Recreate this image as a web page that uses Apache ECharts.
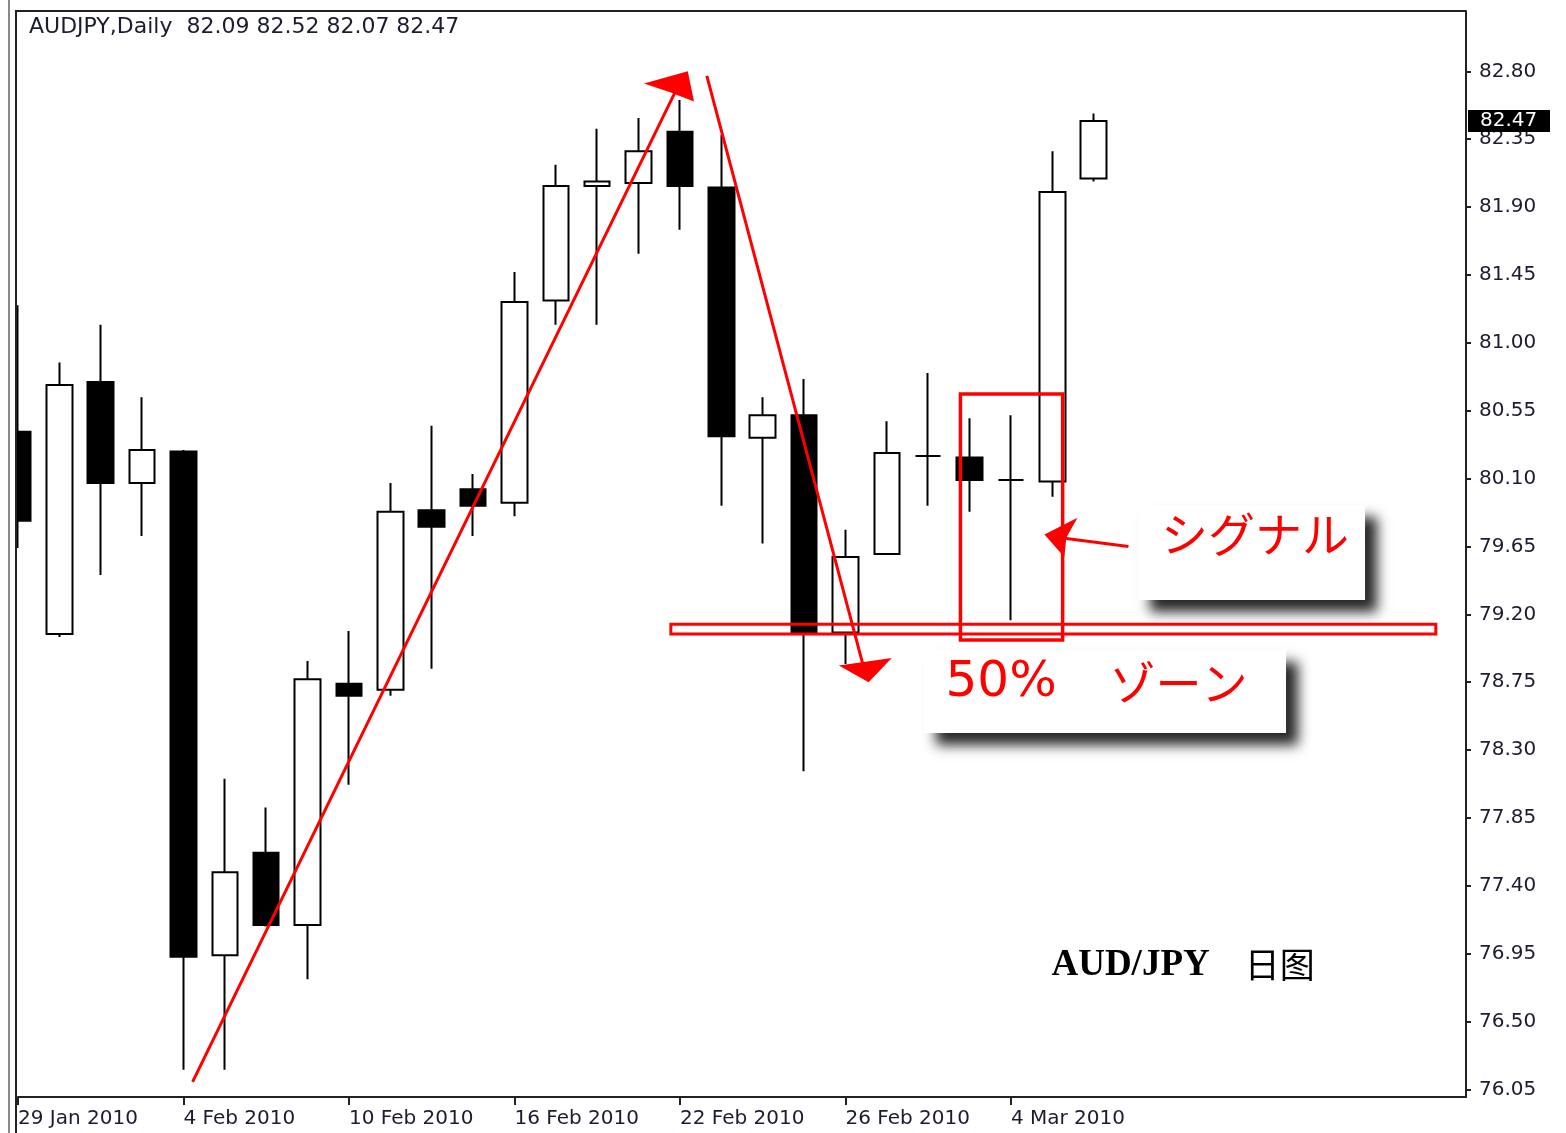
<!DOCTYPE html>
<html>
<head>
<meta charset="utf-8">
<title>AUDJPY Daily</title>
<script src="https://cdn.jsdelivr.net/npm/echarts@6/dist/echarts.min.js"></script>
<style>
  html, body { margin: 0; padding: 0; background: #fff; }
  #chart { width: 1566px; height: 1133px; }
</style>
</head>
<body>
<div id="chart"></div>
<script>
// daily bars, 29 Jan 2010 - 8 Mar 2010, then empty slots to the right
const dates = [
  '29 Jan 2010', '1 Feb 2010', '2 Feb 2010', '3 Feb 2010', '4 Feb 2010', '5 Feb 2010',
  '8 Feb 2010', '9 Feb 2010', '10 Feb 2010', '11 Feb 2010', '12 Feb 2010',
  '15 Feb 2010', '16 Feb 2010', '17 Feb 2010', '18 Feb 2010', '19 Feb 2010',
  '22 Feb 2010', '23 Feb 2010', '24 Feb 2010', '25 Feb 2010', '26 Feb 2010',
  '1 Mar 2010', '2 Mar 2010', '3 Mar 2010', '4 Mar 2010', '5 Mar 2010', '8 Mar 2010',
  '9 Mar 2010', '10 Mar 2010', '11 Mar 2010', '12 Mar 2010', '15 Mar 2010',
  '16 Mar 2010', '17 Mar 2010', '18 Mar 2010', '19 Mar 2010'
];
const opens  = [80.41, 79.07, 80.74, 80.07, 80.28, 76.94, 77.62, 77.14, 78.74, 78.70, 79.89, 80.03, 79.94, 81.28,
                82.04, 82.06, 82.40, 82.03, 80.37, 80.52, 79.08, 79.60, 80.25, 80.24, 80.09, 80.08, 82.09];
const highs  = [81.25, 80.87, 81.12, 80.64, 80.29, 78.11, 77.92, 78.89, 79.09, 80.07, 80.45, 80.13, 81.47, 82.18,
                82.42, 82.49, 82.61, 82.38, 80.64, 80.76, 79.76, 80.48, 80.80, 80.50, 80.52, 82.27, 82.52];
const lows   = [79.64, 79.05, 79.46, 79.72, 76.18, 76.18, 77.13, 76.78, 78.07, 78.66, 78.84, 79.72, 79.85, 81.12,
                81.12, 81.59, 81.75, 79.92, 79.67, 78.16, 78.87, 79.60, 79.92, 79.88, 79.16, 79.98, 82.07];
const closes = [79.82, 80.72, 80.07, 80.29, 76.93, 77.49, 77.14, 78.77, 78.66, 79.88, 79.78, 79.92, 81.27, 82.04,
                82.07, 82.27, 82.04, 80.38, 80.52, 79.08, 79.58, 80.27, 80.25, 80.09, 80.09, 82.00, 82.47];
const priceTicks = [76.05, 76.50, 76.95, 77.40, 77.85, 78.30, 78.75, 79.20, 79.65,
                    80.10, 80.55, 81.00, 81.45, 81.90, 82.35, 82.80];
const lastPrice = 82.47;

// hand drawn annotations, as [bar index, price]
const upArrowLine = [[4.22, 76.10], [15.88, 82.66]];
const upArrowHead = [[15.13, 82.72], [16.19, 82.80], [16.34, 82.60], [15.78, 82.66]];
const downArrowLine = [[16.65, 82.77], [20.42, 78.87]];
const downArrowHead = [[19.84, 78.86], [21.12, 78.91], [20.56, 78.75]];
const zoneBand = [[15.78, 79.135], [34.27, 79.07]];
const signalBox = [[22.78, 80.66], [25.25, 79.03]];
const signalArrowLine = [[25.15, 79.71], [26.84, 79.65]];
const signalArrowHead = [[24.81, 79.73], [25.61, 79.84], [25.34, 79.71], [25.29, 79.58]];
const signalNote = { box: [[27.08, 79.925], [32.56, 79.295]], text: [27.63, 79.73] };
const zoneNote = { box: [[21.89, 78.963], [30.65, 78.413]], pct: [22.42, 78.745], word: [26.38, 78.745] };
const pairNote = [24.98, 76.875];

const FONT = 'DejaVu Sans';
const JP = '"Noto Sans CJK JP", sans-serif';
const showTick = (idx) => idx % 4 === 0 && idx <= 24;

const chart = echarts.init(document.getElementById('chart'));
chart.setOption({
  animation: false,
  backgroundColor: '#fff',
  title: {
    text: 'AUDJPY,Daily  82.09 82.52 82.07 82.47',
    left: 29,
    top: 16,
    padding: 0,
    textStyle: { fontFamily: FONT, fontSize: 22, fontWeight: 'normal', color: '#1c1c30' }
  },
  grid: { left: 18, right: 100, top: 11, bottom: 36, show: false },
  xAxis: {
    type: 'category',
    data: dates,
    boundaryGap: false,
    axisLine: { show: true, lineStyle: { color: '#222', width: 2 } },
    axisTick: { show: true, interval: showTick, length: 8, lineStyle: { color: '#222', width: 2 } },
    axisLabel: {
      interval: showTick, align: 'left', margin: 12,
      fontFamily: FONT, fontSize: 20, color: '#1c1c30'
    },
    splitLine: { show: false }
  },
  yAxis: {
    type: 'value',
    position: 'right',
    min: 76.0,
    max: 83.2,
    scale: true,
    axisLine: { show: true, lineStyle: { color: '#222', width: 2 } },
    axisTick: { show: true, customValues: priceTicks, length: 5, lineStyle: { color: '#222', width: 2 } },
    axisLabel: {
      customValues: priceTicks, margin: 13,
      formatter: (v) => v.toFixed(2),
      fontFamily: FONT, fontSize: 20, color: '#1c1c30'
    },
    splitLine: { show: false }
  },
  series: [{
    type: 'candlestick',
    barWidth: 26,
    data: opens.map((o, i) => [o, closes[i], lows[i], highs[i]]),
    itemStyle: {
      color: '#fff', color0: '#000',
      borderColor: '#000', borderColor0: '#000', borderWidth: 2
    }
  }]
});

// pixel helpers (category axis is evenly spaced, so interpolate between slots)
const x0 = chart.convertToPixel({ xAxisIndex: 0 }, dates[0]);
const x1 = chart.convertToPixel({ xAxisIndex: 0 }, dates[1]);
const py = (v) => chart.convertToPixel({ yAxisIndex: 0 }, v);
const toPx = ([i, v]) => [x0 + (x1 - x0) * i, py(v)];
const rectOf = ([a, b]) => {
  const p = toPx(a), q = toPx(b);
  return { x: p[0], y: p[1], width: q[0] - p[0], height: q[1] - p[1] };
};
const red = '#ff0000';
const line = (pts) => ({ type: 'polyline', shape: { points: pts.map(toPx) }, style: { stroke: red, lineWidth: 3 }, z: 50 });
const head = (pts) => ({ type: 'polygon', shape: { points: pts.map(toPx) }, style: { fill: red }, z: 50 });
const noteBox = (box) => ({
  type: 'rect', shape: rectOf(box), z: 40,
  style: { fill: '#fff', shadowBlur: 12, shadowColor: 'rgba(0,0,0,0.85)', shadowOffsetX: 12, shadowOffsetY: 12 }
});
const label = (pos, text, font, size) => {
  const p = toPx(pos);
  return {
    type: 'text', x: p[0], y: p[1], z: 60,
    style: { text, fill: red, font: `${size}px ${font}`, verticalAlign: 'middle' }
  };
};
const pair = toPx(pairNote);
const gridRight = chart.convertToPixel({ xAxisIndex: 0 }, dates[dates.length - 1]);
const lastY = py(lastPrice);

chart.setOption({
  graphic: [
    // hide the part of the first bar left of the plot, then the window frame
    { type: 'rect', shape: { x: 0, y: 0, width: 16, height: 1133 }, style: { fill: '#fff' }, z: 30 },
    { type: 'line', shape: { x1: 9, y1: 0, x2: 9, y2: 1133 }, style: { stroke: '#8a8a8a', lineWidth: 2 }, z: 35 },
    { type: 'line', shape: { x1: 16, y1: 10, x2: 16, y2: 1133 }, style: { stroke: '#222', lineWidth: 2 }, z: 35 },
    { type: 'line', shape: { x1: 15, y1: 11, x2: gridRight, y2: 11 }, style: { stroke: '#222', lineWidth: 2 }, z: 35 },

    // last price tag on the price scale
    { type: 'rect', shape: { x: gridRight + 2, y: lastY - 11, width: 82, height: 22 }, style: { fill: '#000' }, z: 36 },
    {
      type: 'text', x: gridRight + 14, y: lastY, z: 37,
      style: { text: lastPrice.toFixed(2), fill: '#fff', font: `20px ${FONT}`, verticalAlign: 'middle' }
    },

    line(upArrowLine), head(upArrowHead),
    line(downArrowLine), head(downArrowHead),
    { type: 'rect', shape: rectOf(zoneBand), style: { fill: 'none', stroke: red, lineWidth: 3 }, z: 50 },
    { type: 'rect', shape: rectOf(signalBox), style: { fill: 'none', stroke: red, lineWidth: 3.5 }, z: 50 },
    line(signalArrowLine), head(signalArrowHead),

    noteBox(signalNote.box),
    label(signalNote.text, 'シグナル', JP, 47),
    noteBox(zoneNote.box),
    label(zoneNote.pct, '50%', FONT, 50),
    label(zoneNote.word, 'ゾーン', JP, 46),

    {
      type: 'text', x: pair[0], y: pair[1], z: 60,
      style: {
        text: '{a|AUD/JPY}{b|　日图}', fill: '#000', verticalAlign: 'middle',
        rich: {
          a: { fontFamily: '"Liberation Serif", serif', fontWeight: 'bold', fontSize: 37, fill: '#000' },
          b: { fontFamily: '"Noto Sans CJK SC", sans-serif', fontWeight: 'normal', fontSize: 35, fill: '#000' }
        }
      }
    }
  ]
});
</script>
</body>
</html>
